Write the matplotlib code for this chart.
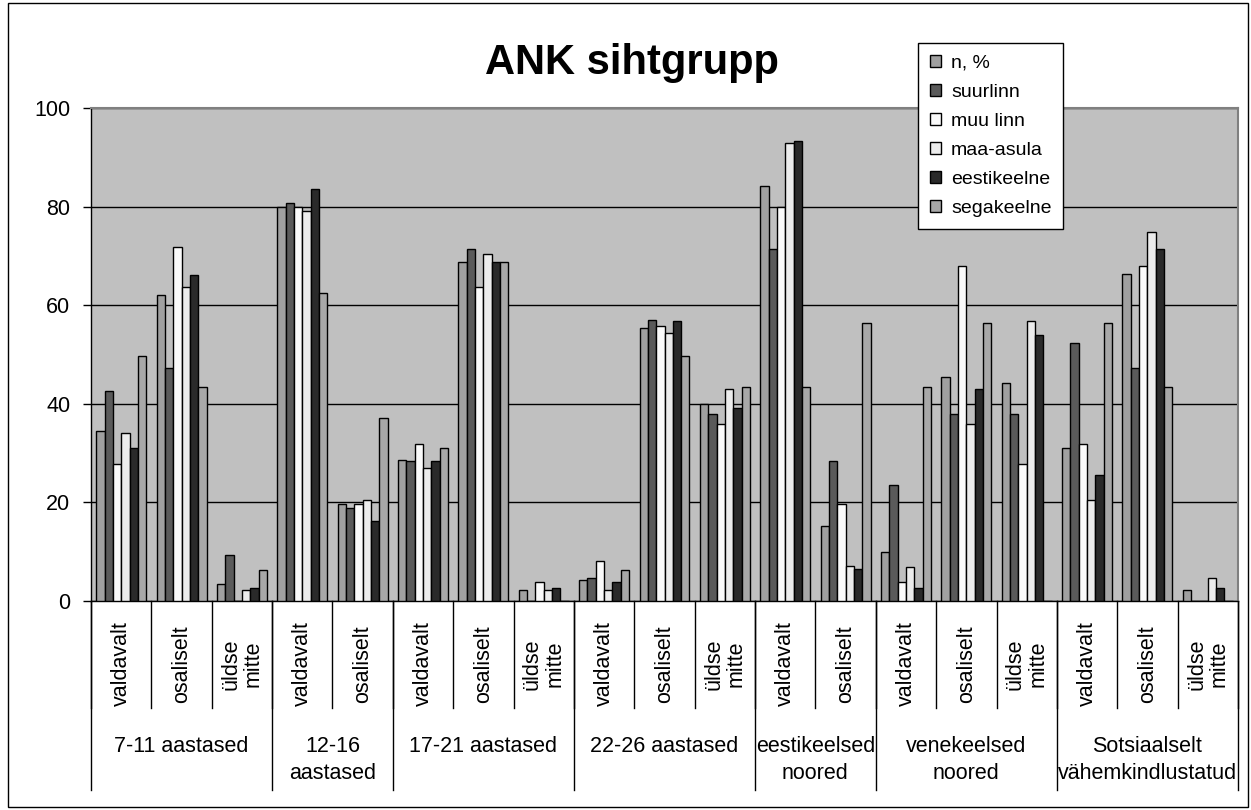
import matplotlib.pyplot as plt
import numpy as np
from matplotlib.patches import Patch, Rectangle

plt.rcParams['font.family'] = ['Liberation Sans', 'DejaVu Sans']

groups = ["7-11 aastased", "12-16\naastased", "17-21 aastased", "22-26 aastased",
          "eestikeelsed\nnoored", "venekeelsed\nnoored", "Sotsiaalselt\nvähemkindlustatud"]
group_sizes = [3, 2, 3, 3, 2, 3, 3]
answers = ["valdavalt", "osaliselt", "üldse\nmitte"]

series_names = ["n, %", "suurlinn", "muu linn", "maa-asula", "eestikeelne", "segakeelne"]
series_colors = ["#a0a0a0", "#5a5a5a", "#fafafa", "#ececec", "#2a2a2a", "#a8a8a8"]

n_pct = [34.5, 62.1, 3.5, 80.0, 19.7, 28.6, 68.7, 2.2, 4.3, 55.4, 40.0,
         84.2, 15.3, 10.0, 45.4, 44.2, 31.0, 66.4, 2.2]
suurlinn = [42.6, 47.3, 9.3, 80.8, 18.9, 28.3, 71.5, 0, 4.7, 57.0, 38.0,
            71.4, 28.3, 23.5, 38.0, 38.0, 52.3, 47.3, 0]
muu_linn = [27.8, 71.9, 0, 80.0, 19.7, 31.8, 63.6, 3.9, 8.1, 55.8, 36.0,
            80.0, 19.7, 3.8, 67.9, 27.8, 31.8, 67.9, 0]
maa_asula = [34.1, 63.6, 2.3, 79.2, 20.5, 27.0, 70.3, 2.2, 2.2, 54.3, 43.0,
             92.9, 7.0, 6.9, 36.0, 56.7, 20.5, 74.9, 4.7]
eestikeelne = [31.0, 66.1, 2.7, 83.6, 16.2, 28.3, 68.7, 2.7, 3.9, 56.7, 39.1,
               93.3, 6.5, 2.6, 43.1, 54.0, 25.6, 71.5, 2.6]
segakeelne = [49.7, 43.5, 6.2, 62.5, 37.2, 31.0, 68.7, 0, 6.2, 49.6, 43.5,
              43.5, 56.3, 43.5, 56.3, 0, 56.3, 43.5, 0]
series = [n_pct, suurlinn, muu_linn, maa_asula, eestikeelne, segakeelne]

# category labels for every bar cluster
cat_labels = []
for size in group_sizes:
    cat_labels += answers[:size]
n_cat = len(cat_labels)

fig = plt.figure(figsize=(12.51, 8.10), dpi=100)
ax = fig.add_axes([91 / 1251, 209 / 810, 1147 / 1251, 493 / 810])
ax.set_facecolor("#c0c0c0")

x = np.arange(n_cat)
bw = 1 / 7.25
for i, (vals, col) in enumerate(zip(series, series_colors)):
    ax.bar(x + (i - 2.5) * bw, vals, bw, color=col, edgecolor="black",
           linewidth=1.0, zorder=3)

ax.set_xlim(-0.5, n_cat - 0.5)
ax.set_ylim(0, 100)
ax.set_yticks(range(0, 101, 20))
ax.tick_params(axis="y", labelsize=15.5, length=6, width=1, direction="out", pad=9)
ax.set_xticks([])
ax.yaxis.grid(True, color="black", linewidth=1)
ax.set_axisbelow(True)
for s in ["top", "right"]:
    ax.spines[s].set_color("#808080")
    ax.spines[s].set_linewidth(1.5)
for s in ["left", "bottom"]:
    ax.spines[s].set_color("black")
    ax.spines[s].set_linewidth(1)

# two-level category axis below the plot
tr = ax.get_xaxis_transform()
inner_bottom = -107 / 493
outer_bottom = -189 / 493
for b in range(n_cat + 1):
    ax.plot([b - 0.5, b - 0.5], [0, inner_bottom], color="black", lw=1,
            transform=tr, clip_on=False)
for i, lab in enumerate(cat_labels):
    ax.text(i, -63 / 493, lab, transform=tr, rotation=90, ha="center",
            va="center", fontsize=15.5, linespacing=1.1)

bounds = np.concatenate([[0], np.cumsum(group_sizes)])
for b in bounds:
    ax.plot([b - 0.5, b - 0.5], [0, outer_bottom], color="black", lw=1,
            transform=tr, clip_on=False)
for g, lab in enumerate(groups):
    mid = (bounds[g] + bounds[g + 1]) / 2 - 0.5
    ax.text(mid, -135 / 493, lab, transform=tr, ha="center", va="top",
            fontsize=15.5, linespacing=1.35)

fig.suptitle("ANK sihtgrupp", fontsize=30, fontweight="bold", x=0.505, y=0.947)

handles = [Patch(facecolor=c, edgecolor="black", linewidth=1) for c in series_colors]
leg = ax.legend(handles, series_names, loc="upper left",
                bbox_to_anchor=(918 / 1251, 1 - 43 / 810),
                bbox_transform=fig.transFigure, borderaxespad=0,
                fontsize=14, frameon=True,
                fancybox=False, edgecolor="black", framealpha=1,
                handlelength=0.6, handleheight=0.6, handletextpad=0.5,
                labelspacing=0.62, borderpad=0.6)
leg.get_frame().set_linewidth(1)

# outer chart border
fig.patches.append(Rectangle((8 / 1251, 3 / 810), 1240 / 1251, 804 / 810,
                             transform=fig.transFigure, fill=False,
                             edgecolor="black", linewidth=1))

fig.savefig("out.png", dpi=100)
